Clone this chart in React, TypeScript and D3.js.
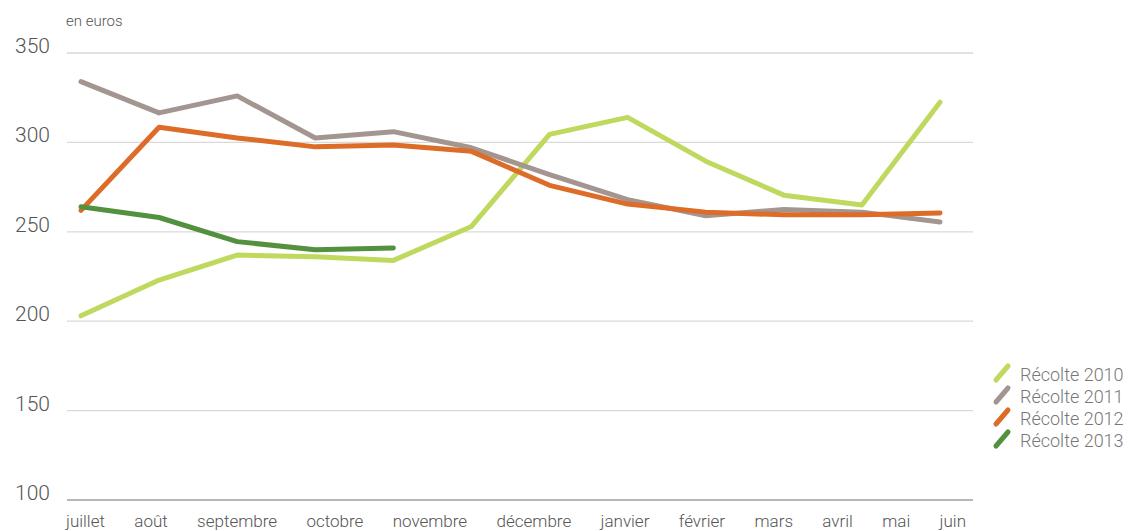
import React, { useEffect, useRef } from "react";
import * as d3 from "d3";

const months = ["juillet", "août", "septembre", "octobre", "novembre", "décembre", "janvier", "février", "mars", "avril", "mai", "juin"];
const yTicks = [100, 150, 200, 250, 300, 350];
const seriesNames = ["Récolte 2010", "Récolte 2011", "Récolte 2012", "Récolte 2013"];
const seriesColors = ["#bfd95f", "#a39690", "#dd6c28", "#53913f"];
const recolte2010 = [203, 223, 237, 236, 234, 253, 304.5, 314, 289.5, 270.5, 265, 322.5];
const recolte2011 = [334, 316.5, 326, 302.5, 306, 297, 282, 268, 259, 262.5, 261, 255.5];
const recolte2012 = [262, 308.5, 302.5, 297.5, 298.5, 295, 276, 265.5, 261, 259.5, 259.5, 260.5];
const recolte2013 = [264, 258, 244.5, 240, 241];
const seriesValues = [recolte2010, recolte2011, recolte2012, recolte2013];

const FONT = "Roboto, 'Open Sans', sans-serif";

export default function App() {
  const axisRef = useRef<SVGGElement>(null);
  const x = d3.scalePoint<string>().domain(months).range([81, 940]);
  const y = d3.scaleLinear().domain([100, 350]).range([500, 53]);
  const line = d3
    .line<number>()
    .x((_, i) => x(months[i]) as number)
    .y((d) => y(d));

  useEffect(() => {
    const g = axisRef.current;
    if (!g) return;
    const texts = Array.from(g.querySelectorAll("text")) as SVGTextElement[];
    const widths = texts.map((t) => t.getComputedTextLength());
    const start = 66;
    const end = 966;
    const total = d3.sum(widths);
    const gap = (end - start - total) / (texts.length - 1);
    let cx = start;
    texts.forEach((t, i) => {
      t.setAttribute("x", String(cx));
      cx += widths[i] + gap;
    });
  }, []);

  return (
    <svg width={1129} height={531} style={{ position: "absolute", left: 0, top: 0 }} fontFamily={FONT}>
      <rect width={1129} height={531} fill="#ffffff" />
      <text x={66} y={26} fontSize={15} fill="#555" fontWeight={300}>en euros</text>
      {yTicks.map((t) => (
        <g key={t}>
          <line x1={67} x2={973} y1={y(t)} y2={y(t)} stroke={t === 100 ? "#a0a0a0" : "#d9d9d9"} strokeWidth={t === 100 ? 1.6 : 1.3} />
          <text x={50} y={y(t)} textAnchor="end" fontSize={21} fill="#555" fontWeight={300}>{t}</text>
        </g>
      ))}
      <g ref={axisRef}>
        {months.map((m) => (
          <text key={m} x={x(m)} y={527} fontSize={17} fill="#555" fontWeight={300}>{m}</text>
        ))}
      </g>
      {seriesValues.map((vals, i) => (
        <path key={i} d={line(vals) || ""} fill="none" stroke={seriesColors[i]} strokeWidth={5} strokeLinejoin="round" strokeLinecap="round" />
      ))}
      {seriesNames.map((n, i) => {
        const cy = 373 + i * 22;
        return (
          <g key={n}>
            <line x1={996} y1={cy + 7} x2={1008} y2={cy - 7} stroke={seriesColors[i]} strokeWidth={5} strokeLinecap="round" />
            <text x={1020} y={cy + 8} fontSize={18} fill="#777" fontWeight={300}>{n}</text>
          </g>
        );
      })}
    </svg>
  );
}
